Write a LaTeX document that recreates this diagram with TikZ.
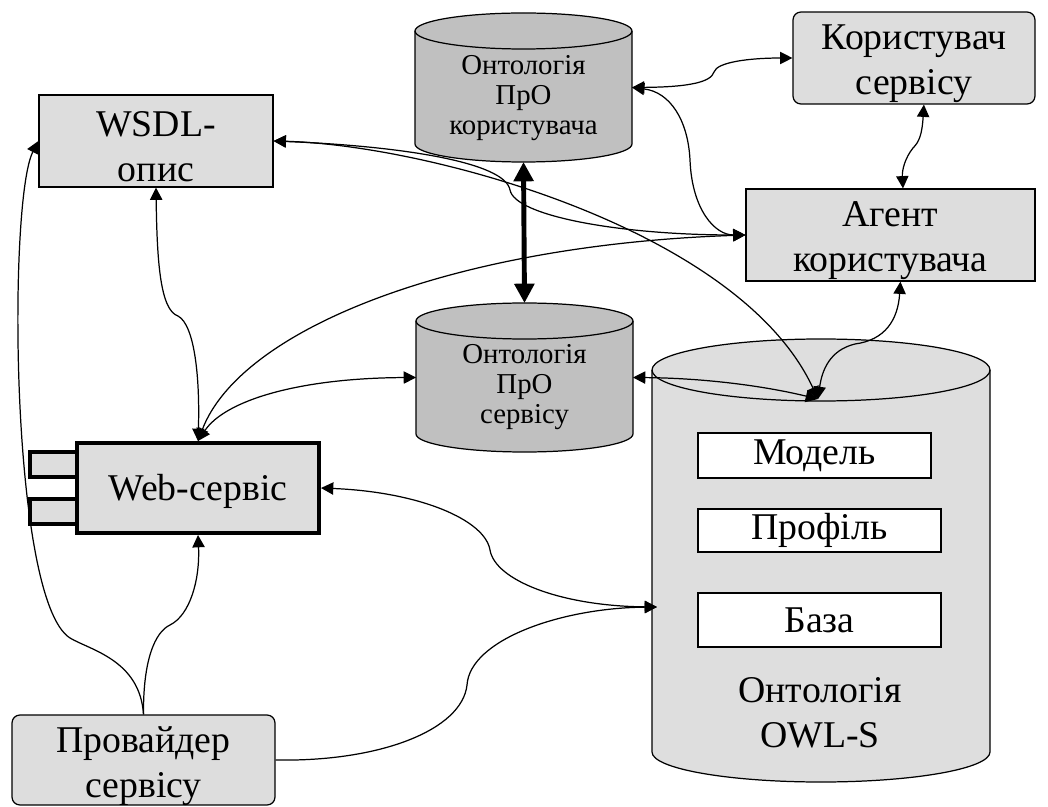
\documentclass[tikz,border=0pt]{standalone}
\usepackage{fontspec}
\setmainfont{Liberation Serif}
\usetikzlibrary{arrows.meta}

\definecolor{boxgray}{RGB}{221,221,221}
\definecolor{cylgray}{RGB}{192,192,192}
\definecolor{owlgray}{RGB}{222,222,222}

\tikzset{
  >={Triangle[length=7pt,width=7pt]},
  bigfont/.style={font=\fontsize{21.5}{25.5}\selectfont},
  smallfont/.style={font=\fontsize{16.4}{17.2}\selectfont},
  box/.style={draw, line width=0.7pt, fill=boxgray, inner sep=0pt},
  rbox/.style={box, rounded corners=4.5pt},
  boxtext/.style={align=center, bigfont, inner sep=0pt},
  webbox/.style={draw, line width=2.3pt, fill=boxgray, inner sep=0pt},
  port/.style={draw, line width=2.3pt, fill=boxgray, inner sep=0pt,
    minimum width=0.94cm, minimum height=0.5cm},
  slot/.style={draw, line width=0.7pt, fill=white, bigfont, inner sep=0pt},
  hold/.style={inner sep=0pt, outer sep=0pt},
  cyltext/.style={align=center, smallfont, inner sep=0pt},
  cylbody/.style={draw, line width=0.7pt},
  link/.style={line width=0.7pt},
  bus/.style={line width=2.8pt,
    {Triangle[length=11pt,width=11pt]}-{Triangle[length=11pt,width=11pt]}},
}

\begin{document}
\begin{tikzpicture}[x=0.02cm, y=-0.02cm]
\useasboundingbox (0,0) rectangle (1048,807);

% ---- cylinders ----
% user-domain ontology
\path[cylbody, fill=cylgray] (415,31) -- (415,144)
  arc[start angle=180, end angle=0, x radius=108.5, y radius=18] -- (632,31)
  arc[start angle=0, end angle=-180, x radius=108.5, y radius=18] -- cycle;
\draw[line width=0.7pt] (415,31) arc[start angle=180, end angle=0, x radius=108.5, y radius=18];
\node[hold, minimum width=4.34cm, minimum height=2.98cm] (ontU) at (523.5,87.5) {};
\node[cyltext] (ontUlbl) at (523.5,98) {Онтологія\\ПрО\\користувача};

% service-domain ontology
\path[cylbody, fill=cylgray] (416,321) -- (416,434)
  arc[start angle=180, end angle=0, x radius=108.5, y radius=18] -- (633,321)
  arc[start angle=0, end angle=-180, x radius=108.5, y radius=18] -- cycle;
\draw[line width=0.7pt] (416,321) arc[start angle=180, end angle=0, x radius=108.5, y radius=18];
\node[hold, minimum width=4.34cm, minimum height=2.98cm] (ontS) at (524.5,377.5) {};
\node[cyltext] (ontSlbl) at (524.5,387) {Онтологія\\ПрО\\сервісу};

% OWL-S ontology
\path[cylbody, fill=owlgray] (652,370) -- (652,752)
  arc[start angle=180, end angle=0, x radius=169, y radius=30] -- (990,370)
  arc[start angle=0, end angle=-180, x radius=169, y radius=31] -- cycle;
\draw[line width=0.7pt] (652,370) arc[start angle=180, end angle=0, x radius=169, y radius=31];
\coordinate (owlTop) at (818,399);
\coordinate (owlSide) at (657,607);
\node[slot, minimum width=4.66cm, minimum height=0.9cm] (model) at (814.5,455.5) {Модель};
\node[slot, minimum width=4.86cm, minimum height=0.86cm] (profile) at (819.5,530.5) {Профіль};
\node[slot, minimum width=4.86cm, minimum height=1.08cm] (base) at (819.5,620) {База};
\node[boxtext] (owllbl) at (820,713) {Онтологія\\OWL-S};

% ---- boxes ----
\node[box, minimum width=4.68cm, minimum height=1.84cm] (wsdl) at (156,141) {};
\node[boxtext] (wsdllbl) at ([yshift=-3.4pt]wsdl.center) {WSDL-\\опис};
\node[rbox, minimum width=4.84cm, minimum height=1.84cm] (kor) at (914,58) {};
\node[boxtext] (korlbl) at ([yshift=-3.4pt]kor.center) {Користувач\\сервісу};
\node[box, minimum width=5.78cm, minimum height=1.84cm] (agent) at (890.5,235) {};
\node[boxtext] (agentlbl) at ([yshift=-3.4pt]agent.center) {Агент\\користувача};
\node[rbox, minimum width=5.26cm, minimum height=1.8cm] (prov) at (143.5,760) {};
\node[boxtext] (provlbl) at ([yshift=-3.4pt]prov.center) {Провайдер\\сервісу};

% web service component with two ports
\node[port] (portA) at (53.5,464.5) {};
\node[port] (portB) at (53.5,511.5) {};
\node[webbox, minimum width=4.84cm, minimum height=1.8cm] (web) at (198,488) {};
\node[boxtext] (weblbl) at ([yshift=-2pt]web.center) {Web-сервіс};

% ---- connectors ----
\draw[bus] (ontU.south) -- (ontS.north);

\draw[link,<->] (ontU.east) .. controls (690,87) and (711,82) .. (714,72)
  .. controls (717,62) and (750,58) .. (kor.west);
\draw[link,<->] (ontU.east) .. controls (670,92) and (688,120) .. (690,160)
  .. controls (692,210) and (715,235) .. (agent.west);
\draw[link,<->] (kor.-78) .. controls (922,135) and (919,142) .. (913,148)
  .. controls (905,158) and (902,170) .. (agent.75);
\draw[link,<->] (agent.-78) .. controls (898,320) and (885,340) .. (855,344)
  .. controls (830,350) and (822,370) .. (owlTop);

\draw[link,<->] (wsdl.east) .. controls (430,145) and (740,230) .. (owlTop);
\draw[link,<->] (wsdl.east) .. controls (400,146) and (505,162) .. (510,190)
  .. controls (515,216) and (620,235) .. (agent.west);

\draw[link,<->] (web.north) .. controls (240,330) and (450,245) .. (agent.west);
\draw[link,<->] (web.north) .. controls (225,400) and (300,378) .. (ontS.west);
\draw[link,<->] (wsdl.south) .. controls (157,260) and (160,310) .. (178,316)
  .. controls (195,325) and (200,380) .. (web.north);

\draw[link,<->] (owlTop) .. controls (760,385) and (700,378) .. (ontS.east);
\draw[link,<->] (web.east) .. controls (420,492) and (485,520) .. (490,550)
  .. controls (495,580) and (560,606) .. (owlSide);

\draw[link,->] (prov.east) .. controls (380,762) and (462,730) .. (467,685)
  .. controls (470,640) and (560,608) .. (owlSide);
\draw[link,->] (prov.north) .. controls (143,660) and (155,632) .. (170,625)
  .. controls (190,615) and (200,580) .. (web.south);
\draw[link,->] (prov.north) .. controls (140,660) and (90,650) .. (70,638)
  .. controls (10,600) and (8,200) .. (wsdl.west);

\end{tikzpicture}
\end{document}
